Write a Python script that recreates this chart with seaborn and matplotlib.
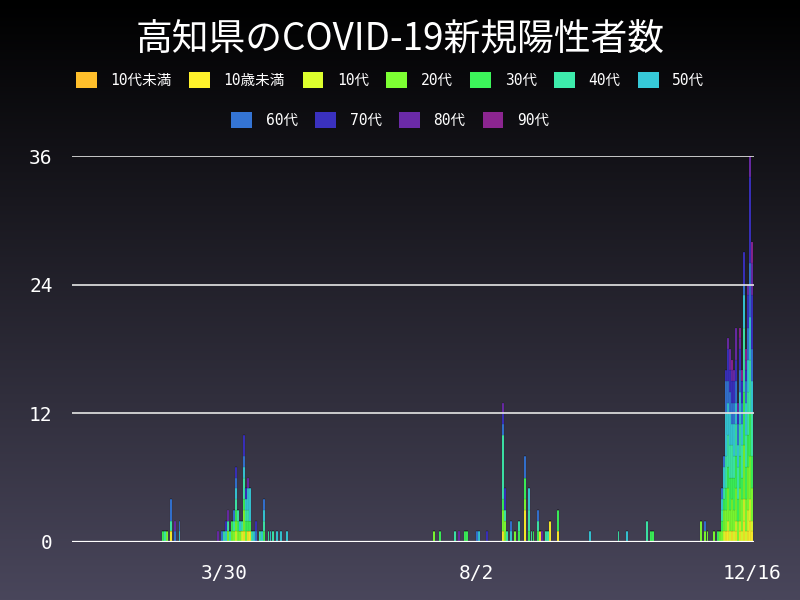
"""
plot.py
-------
Kochi prefecture daily new COVID-19 cases (2020), stacked by age group.
"""

import numpy as np
import pandas as pd
import matplotlib
matplotlib.use('Agg')
import matplotlib.pyplot as plt
from matplotlib.patches import Patch
from matplotlib.font_manager import FontProperties
import seaborn as sns

# ── Data ───────────────────────────────────────────────────────────────
TITLE = '高知県のCOVID-19新規陽性者数'
START = '2020-01-16'
YEAR = 2020

AGES = ['10代未満', '10歳未満', '10代', '20代', '30代', '40代', '50代',
        '60代', '70代', '80代', '90代']
COLORS = ['#ffbf2b', '#fff22b', '#dcff2d', '#7dff33', '#3cf55a', '#3debab',
          '#36c9d8', '#3474d4', '#3a31bf', '#6b2aa8', '#8b2590']

# cases per day (M/D -> count), one dict per age group
age_u10a = {}
age_u10b = {'3/4': 1, '4/9': 1, '4/11': 1, '4/12': 1, '8/15': 1, '8/26': 3,
            '9/2': 1, '9/7': 2, '9/11': 1, '12/3': 1, '12/4': 1, '12/6': 1,
            '12/8': 1, '12/10': 1, '12/12': 2, '12/14': 1, '12/15': 2,
            '12/16': 1}
age_10s = {'4/5': 1, '4/8': 1, '12/2': 1, '12/4': 1, '12/5': 1, '12/7': 1,
           '12/8': 1, '12/10': 1, '12/11': 1, '12/12': 2, '12/13': 1,
           '12/14': 2, '12/15': 2, '12/16': 1}
age_20s = {'3/2': 1, '4/1': 1, '4/3': 1, '4/4': 1, '4/5': 1, '4/6': 1,
           '4/7': 1, '4/9': 2, '4/10': 1, '7/12': 1, '8/15': 2, '8/16': 2,
           '8/21': 1, '8/26': 1, '11/21': 2, '11/23': 1, '11/24': 1,
           '11/27': 1, '11/30': 1, '12/1': 1, '12/2': 2, '12/3': 2, '12/4': 3,
           '12/5': 2, '12/6': 3, '12/7': 2, '12/8': 3, '12/9': 2, '12/10': 3,
           '12/11': 3, '12/12': 5, '12/13': 3, '12/14': 4, '12/15': 4,
           '12/16': 3}
age_30s = {'2/29': 1, '4/3': 1, '4/5': 1, '4/6': 1, '4/9': 1, '4/10': 1,
           '4/11': 1, '4/12': 1, '4/19': 1, '7/15': 1, '7/27': 1, '7/28': 1,
           '8/15': 1, '8/23': 1, '8/26': 2, '8/28': 1, '8/30': 1, '9/1': 1,
           '9/11': 2, '10/27': 1, '10/28': 1, '11/29': 1, '12/1': 1,
           '12/2': 1, '12/3': 2, '12/4': 2, '12/5': 3, '12/6': 2, '12/7': 3,
           '12/8': 3, '12/9': 2, '12/10': 3, '12/11': 2, '12/12': 5,
           '12/13': 3, '12/14': 3, '12/15': 4, '12/16': 3}
age_40s = {'3/1': 1, '3/4': 1, '3/30': 1, '4/1': 1, '4/2': 1, '4/4': 1,
           '4/5': 1, '4/6': 1, '4/8': 1, '4/9': 2, '4/10': 1, '4/11': 1,
           '4/13': 1, '4/17': 1, '4/19': 1, '4/21': 1, '4/23': 1, '7/22': 1,
           '8/15': 6, '8/16': 1, '8/17': 1, '8/23': 1, '8/28': 2, '8/29': 1,
           '9/1': 1, '9/5': 1, '9/6': 1, '10/11': 1, '10/25': 2, '12/1': 1,
           '12/2': 1, '12/3': 3, '12/4': 3, '12/5': 3, '12/6': 3, '12/7': 2,
           '12/8': 3, '12/9': 3, '12/10': 3, '12/11': 3, '12/12': 6,
           '12/13': 3, '12/14': 4, '12/15': 5, '12/16': 4}
age_50s = {'3/8': 1, '3/31': 1, '4/5': 1, '4/7': 1, '4/9': 1, '4/10': 1,
           '4/11': 2, '4/12': 3, '4/14': 1, '4/18': 1, '4/19': 1, '4/22': 1,
           '4/25': 1, '4/27': 1, '4/30': 1, '8/3': 1, '8/19': 1, '8/28': 2,
           '9/27': 1, '10/15': 1, '12/1': 1, '12/2': 2, '12/3': 4, '12/4': 3,
           '12/5': 3, '12/6': 2, '12/7': 3, '12/8': 2, '12/9': 2, '12/10': 3,
           '12/11': 2, '12/12': 3, '12/13': 3, '12/14': 3, '12/15': 4,
           '12/16': 3}
age_60s = {'3/4': 2, '3/6': 1, '3/8': 1, '3/29': 1, '4/4': 1, '4/5': 1,
           '4/9': 1, '4/15': 1, '4/19': 1, '8/2': 1, '8/15': 1, '8/19': 1,
           '8/26': 2, '9/1': 1, '11/23': 1, '12/1': 1, '12/2': 1, '12/3': 3,
           '12/4': 2, '12/5': 2, '12/6': 2, '12/7': 2, '12/8': 2, '12/9': 2,
           '12/10': 2, '12/11': 2, '12/12': 1, '12/13': 2, '12/14': 3,
           '12/15': 5, '12/16': 3}
age_70s = {'3/31': 1, '4/5': 1, '4/9': 2, '4/10': 1, '4/15': 1, '8/7': 1,
           '8/15': 1, '8/16': 2, '12/3': 1, '12/4': 3, '12/5': 2, '12/6': 2,
           '12/7': 2, '12/8': 2, '12/9': 1, '12/10': 2, '12/11': 2,
           '12/12': 3, '12/13': 1, '12/14': 3, '12/15': 8, '12/16': 5}
age_80s = {'3/6': 1, '3/27': 1, '4/1': 1, '4/11': 1, '7/24': 1, '8/15': 1,
           '9/3': 1, '12/4': 1, '12/5': 2, '12/6': 1, '12/7': 1, '12/8': 3,
           '12/9': 1, '12/10': 1, '12/13': 1, '12/14': 1, '12/15': 2,
           '12/16': 3}
age_90s = {'12/6': 1, '12/10': 1, '12/11': 1, '12/13': 1, '12/16': 2}

SERIES = [age_u10a, age_u10b, age_10s, age_20s, age_30s, age_40s, age_50s,
          age_60s, age_70s, age_80s, age_90s]

XTICK_DATES = ['3/30', '8/2', '12/16']
YTICKS = [0, 12, 24, 36]
END_DATE = '12/16'


def to_day(md):
    """'M/D' -> days since START."""
    ts = pd.to_datetime(f'{YEAR}/{md}', format='%Y/%m/%d')
    return (ts - pd.Timestamp(START)).days


def build_frame():
    rows = []
    for age, counts in zip(AGES, SERIES):
        for md, n in counts.items():
            rows.append({'day': to_day(md), 'age': age, 'count': n})
    return pd.DataFrame(rows)


def main():
    df = build_frame()
    palette = dict(zip(AGES, COLORS))

    fig = plt.figure(figsize=(8, 6), dpi=100)

    # dark vertical gradient background
    bg = fig.add_axes([0, 0, 1, 1], zorder=-10)
    top = np.array([0.0, 0.0, 0.0])
    bottom = np.array([0x49, 0x46, 0x5b]) / 255
    t = np.linspace(0, 1, 256)[:, None]
    grad = (top * (1 - t) + bottom * t)[:, None, :]
    bg.imshow(grad, aspect='auto', extent=[0, 1, 0, 1])
    bg.axis('off')

    ax = fig.add_axes([0.09, 0.0967, 0.8525, 0.6433])
    ax.set_facecolor('none')

    # seaborn stacks the last hue level at the bottom, so feed it reversed
    sns.histplot(data=df, x='day', weights='count', hue='age',
                 hue_order=AGES[::-1], palette=palette, multiple='stack',
                 discrete=True, shrink=0.95, alpha=1,
                 edgecolor=(0, 0, 0, 0.22), linewidth=0.3,
                 legend=False, ax=ax)

    end = to_day(END_DATE)
    ax.set_xlim(-1.14, end + 1.0)
    ax.set_ylim(0, 36)

    # white grid on top of the bars
    for y in YTICKS[1:]:
        ax.axhline(y, color='#e6e6e6', lw=1.2, zorder=5)
    ax.axhline(0, color='white', lw=1.6, zorder=6)

    tick_font = FontProperties(family=['DejaVu Sans Mono', 'Noto Sans CJK JP'],
                               size=14)
    ax.set_yticks(YTICKS)
    ax.set_yticklabels([str(v) for v in YTICKS], fontproperties=tick_font,
                       color='white')
    ax.set_xticks([to_day(d) for d in XTICK_DATES])
    ax.set_xticklabels(XTICK_DATES, fontproperties=tick_font, color='white')
    ax.tick_params(axis='both', length=0)
    ax.tick_params(axis='y', pad=14)
    ax.tick_params(axis='x', pad=16)
    ax.set_xlabel('')
    ax.set_ylabel('')
    for s in ax.spines.values():
        s.set_visible(False)

    # title
    fig.text(0.5, 1 - 40 / 600, TITLE, color='white', ha='center',
             va='center', fontsize=26.5,
             family=['Noto Sans CJK JP', 'DejaVu Sans'])

    # legend in two centred rows
    leg_font = FontProperties(family=['DejaVu Sans Mono', 'Noto Sans CJK JP'],
                              size=10.5)
    handles = [Patch(facecolor=c, edgecolor='none') for c in COLORS]
    rows = [(0, 7, 1 - 80 / 600), (7, 11, 1 - 120 / 600)]
    for a, b, y in rows:
        leg = fig.legend(handles[a:b], AGES[a:b], loc='center',
                         bbox_to_anchor=(0.488, y), ncol=b - a,
                         frameon=False, prop=leg_font,
                         handlelength=1.4, handleheight=1.4,
                         handletextpad=0.95, columnspacing=1.2,
                         borderpad=0, borderaxespad=0)
        for txt in leg.get_texts():
            txt.set_color('white')

    fig.savefig('out.png', dpi=100)
    plt.close(fig)


if __name__ == '__main__':
    main()
